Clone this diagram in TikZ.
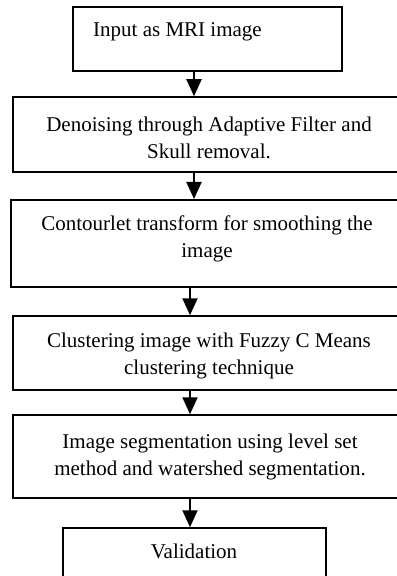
\documentclass[tikz,border=0pt]{standalone}
\usepackage{fontspec}
\setmainfont{Liberation Serif}
\usetikzlibrary{arrows.meta}
\begin{document}
\begin{tikzpicture}[x=1bp,y=-1bp,
  stepbox/.style={draw=black, line width=1.5bp, rectangle, inner sep=0pt},
  steptext/.style={anchor=base, inner sep=0pt, font=\fontsize{21bp}{27bp}\selectfont},
  flow/.style={line width=2bp, -{Triangle[width=15bp,length=17bp]}}]
\useasboundingbox (0,0) rectangle (396,576);
\fill[white] (0,0) rectangle (396,576);

% process boxes (the wide ones run past the right edge of the page)
\node[stepbox, minimum width=269bp, minimum height=64bp] (b1) at (207.5,39) {};
\node[stepbox, minimum width=392bp, minimum height=75bp] (b2) at (209,134.5) {};
\node[stepbox, line width=2bp, minimum width=394bp, minimum height=87bp] (b3) at (208,243.5) {};
\node[stepbox, minimum width=392bp, minimum height=74bp] (b4) at (209,353) {};
\node[stepbox, minimum width=392bp, minimum height=83bp] (b5) at (209,456.5) {};
\node[stepbox, minimum width=263bp, minimum height=52bp] (b6) at (194.5,554) {};

% box labels, placed by the baseline of their first line
\node[steptext, anchor=base west] (t1) at (93,37) {Input as MRI image};
\node[steptext] (t2) at (209,132) {\begin{tabular}[t]{@{}c@{}}Denoising through Adaptive Filter and\\ Skull removal.\end{tabular}};
\node[steptext] (t3) at (207,230) {\begin{tabular}[t]{@{}c@{}}Contourlet transform for smoothing the\\ image\end{tabular}};
\node[steptext] (t4) at (209,347) {\begin{tabular}[t]{@{}c@{}}Clustering image with Fuzzy C Means\\ clustering technique\end{tabular}};
\node[steptext] (t5) at (210,448) {\begin{tabular}[t]{@{}c@{}}Image segmentation using level set\\ method and watershed segmentation.\end{tabular}};
\node[steptext] (t6) at (194,558) {Validation};

% connectors
\coordinate (xa) at (194,0);
\coordinate (xb) at (190,0);
\draw[flow] (xa |- b1.south) -- (xa |- b2.north);
\draw[flow] (xa |- b2.south) -- (xa |- b3.north);
\draw[flow] (xb |- b3.south) -- (xb |- b4.north);
\draw[flow] (xb |- b4.south) -- (xb |- b5.north);
\draw[flow] (xb |- b5.south) -- (xb |- b6.north);
\end{tikzpicture}
\end{document}
